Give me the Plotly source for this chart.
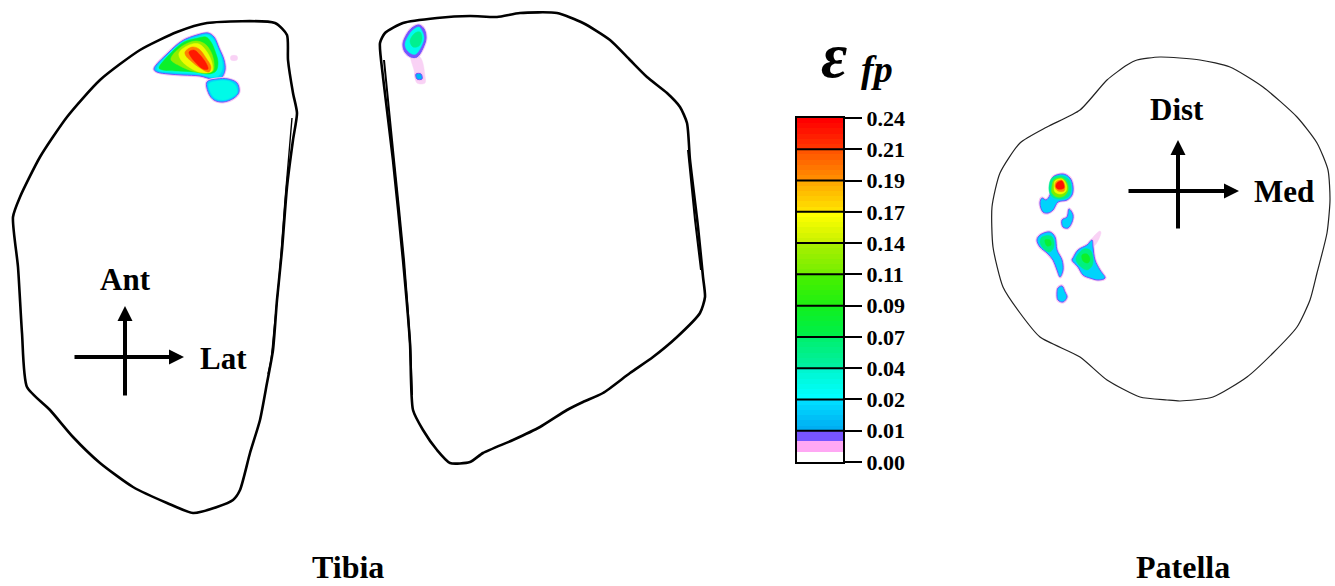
import plotly.graph_objects as go

# ---------------- data (image units) ----------------
# colour-bar tick labels (top -> bottom) and their strain values
cbar_labels = ["0.24", "0.21", "0.19", "0.17", "0.14", "0.11", "0.09",
               "0.07", "0.04", "0.02", "0.01", "0.00"]
cbar_values = [0.24, 0.21, 0.19, 0.17, 0.14, 0.11, 0.09, 0.07, 0.04, 0.02, 0.01, 0.00]

# bone outlines
tibia_L_x = [207, 275, 287, 288, 293, 297, 293, 287, 282, 277, 273, 267, 260, 250, 240, 233,
             217, 193, 167, 133, 100, 73, 50, 27, 22, 18, 13, 20, 40, 67, 100, 140, 177, 207]
tibia_L_y = [23, 23, 35, 60, 93, 113, 140, 187, 250, 300, 350, 383, 420, 453, 490, 500,
             507, 513, 503, 487, 463, 437, 410, 387, 333, 267, 217, 197, 157, 117, 80, 50, 32, 23]
tibia_L_inner_x = [292, 285, 279, 274, 271, 268]
tibia_L_inner_y = [118, 200, 280, 330, 360, 374]

tibia_R_x = [385, 403, 437, 470, 497, 520, 557, 583, 610, 630, 647, 667, 680, 687, 690, 698,
             703, 705, 700, 677, 653, 630, 603, 583, 567, 540, 513, 483, 470, 450, 437, 423,
             413, 410, 403, 393, 383, 380, 385]
tibia_R_y = [33, 23, 18, 16, 17, 13, 13, 23, 40, 60, 77, 93, 107, 123, 160, 227,
             277, 297, 313, 337, 357, 373, 393, 402, 410, 427, 440, 453, 462, 463, 450, 430,
             410, 343, 260, 160, 77, 43, 33]
tibia_R_inner_x = [384, 394, 404, 410, 412]
tibia_R_inner_y = [60, 160, 260, 343, 395]
tibia_R_side_x = [688, 695, 701]
tibia_R_side_y = [150, 220, 270]

patella_x = [1127, 1137, 1160, 1200, 1230, 1263, 1297, 1317, 1328, 1330, 1327, 1317, 1310, 1297,
             1273, 1247, 1213, 1180, 1167, 1140, 1107, 1080, 1040, 1020, 1003, 993, 992, 1000,
             1020, 1047, 1080, 1107, 1127]
patella_y = [65, 60, 57, 60, 67, 87, 117, 143, 170, 200, 233, 273, 300, 327,
             353, 377, 397, 401, 400, 397, 380, 357, 337, 313, 287, 247, 207, 173,
             143, 127, 110, 80, 65]

# strain hot-spots: (strain level, x list, y list), outer -> inner
blob_tibL_main = [
    (0.018, [154, 168, 182, 197, 208, 214, 219, 224, 225, 221, 212, 200, 183, 169, 157],
            [69, 53, 41, 35, 33, 37, 48, 60, 70, 78, 79, 76, 75, 74, 72]),
    (0.030, [157, 169, 183, 198, 207, 213, 218, 222, 222, 218, 211, 199, 183, 170, 160],
            [69, 54, 42, 37, 35, 39, 49, 61, 70, 76, 77, 74, 73, 72, 71]),
    (0.085, [159, 171, 184, 198, 206, 211, 215, 218, 216, 209, 195, 178, 163],
            [68, 53, 42, 38, 37, 42, 51, 62, 71, 74, 72, 71, 70]),
    (0.125, [172, 184, 196, 205, 211, 214, 213, 205, 192, 180, 171],
            [56, 45, 41, 44, 52, 63, 71, 73, 71, 66, 60]),
    (0.160, [179, 189, 199, 207, 212, 212, 204, 192, 181],
            [53, 45, 44, 52, 63, 71, 73, 69, 60]),
    (0.195, [185, 192, 199, 206, 211, 209, 200, 191, 186],
            [52, 47, 49, 58, 67, 72, 68, 61, 56]),
    (0.225, [189, 194, 200, 206, 208, 203, 196, 191],
            [52, 50, 55, 63, 69, 69, 63, 57]),
]
blob_tibL_low = [
    (0.018, [207, 217, 228, 237, 239, 234, 223, 214, 209],
            [82, 79, 79, 83, 92, 98, 102, 100, 94]),
    (0.030, [209, 217, 228, 235, 237, 232, 223, 215, 211],
            [84, 81, 81, 85, 92, 97, 100, 98, 93]),
]
blob_tibL_speck = [
    (0.004, [231, 237, 237, 231], [56, 56, 60, 60]),
]
blob_tibR_trail = [
    (0.004, [411, 420, 425, 425, 417, 414], [56, 57, 76, 83, 83, 70]),
]
blob_tibR_main = [
    (0.008, [412, 419, 424, 426, 423, 417, 411, 405, 403, 407],
            [28, 25, 29, 38, 48, 57, 57, 52, 44, 34]),
    (0.028, [413, 419, 422, 424, 421, 416, 412, 407, 405, 409],
            [30, 27, 31, 38, 47, 54, 54, 50, 44, 35]),
    (0.050, [415, 420, 422, 419, 413, 410], [33, 32, 38, 46, 47, 41]),
]
blob_tibR_dot = [
    (0.012, [416, 421, 422, 417], [74, 74, 79, 79]),
]
blob_pat_A = [
    (0.018, [1053, 1063, 1070, 1073, 1072, 1067, 1058, 1053, 1048, 1043, 1040, 1042, 1046, 1050, 1051],
            [177, 174, 178, 187, 195, 200, 202, 210, 213, 212, 203, 198, 200, 195, 185]),
    (0.050, [1052, 1062, 1069, 1071, 1069, 1062, 1054, 1050, 1049],
            [178, 176, 180, 188, 196, 199, 198, 194, 186]),
    (0.110, [1054, 1062, 1067, 1068, 1064, 1057, 1052, 1052],
            [180, 178, 183, 190, 196, 197, 193, 186]),
    (0.160, [1055, 1062, 1066, 1066, 1061, 1055, 1054], [181, 179, 184, 191, 194, 192, 186]),
    (0.190, [1056, 1062, 1065, 1064, 1058, 1055], [182, 180, 186, 191, 191, 187]),
    (0.230, [1057, 1062, 1064, 1058, 1056], [183, 181, 188, 189, 187]),
]
blob_pat_B = [
    (0.018, [1069, 1067, 1062, 1063, 1068, 1072, 1073], [209, 217, 220, 227, 228, 222, 215]),
]
blob_pat_C = [
    (0.018, [1040, 1050, 1055, 1057, 1062, 1063, 1060, 1057, 1053, 1047, 1040, 1037],
            [235, 232, 237, 250, 260, 270, 277, 270, 260, 253, 247, 240]),
    (0.060, [1042, 1051, 1054, 1053, 1049, 1043, 1040], [237, 236, 242, 249, 252, 248, 242]),
    (0.080, [1045, 1050, 1051, 1047], [240, 240, 245, 246]),
]
blob_pat_D_spike = [
    (0.004, [1091, 1100, 1101, 1094], [241, 231, 233, 246]),
]
blob_pat_D = [
    (0.018, [1073, 1078, 1087, 1092, 1093, 1095, 1100, 1105, 1098, 1090, 1083, 1078, 1072],
            [258, 250, 245, 240, 247, 260, 270, 278, 280, 278, 275, 267, 260]),
    (0.060, [1077, 1084, 1090, 1093, 1092, 1087, 1080, 1076], [256, 249, 250, 258, 266, 270, 266, 260]),
    (0.085, [1082, 1087, 1090, 1088, 1083], [255, 254, 259, 263, 261]),
]
blob_pat_E = [
    (0.018, [1058, 1062, 1065, 1067, 1063, 1058, 1057], [288, 286, 292, 297, 302, 300, 293]),
]

# ---------------- styles ----------------
# colour band gradients, top band -> bottom band (upper colour, lower colour)
band_colors = [
    ("#ff0000", "#ff3300"),
    ("#ff5500", "#ff8c00"),
    ("#ffaa00", "#ffe000"),
    ("#ffff00", "#ccf200"),
    ("#a6ef00", "#78ef00"),
    ("#48f000", "#22f010"),
    ("#10f020", "#00f048"),
    ("#00f070", "#00f0a0"),
    ("#00f6d0", "#00ffff"),
    ("#00dcff", "#00aef2"),
]
bottom_band = ["#7755ff", "#7755ff", "#ffa8f4", "#ffa8f4", "#ffffff", "#ffffff"]
SUB = 6
FONT = "Liberation Serif"


def hex2rgb(h):
    h = h.lstrip("#")
    return [int(h[i:i + 2], 16) for i in (0, 2, 4)]


def mix(c1, c2, f):
    a, b = hex2rgb(c1), hex2rgb(c2)
    return "rgb(%d,%d,%d)" % tuple(round(a[k] + (b[k] - a[k]) * f) for k in range(3))


def level_color(v):
    for i in range(len(cbar_values) - 1):
        hi, lo = cbar_values[i], cbar_values[i + 1]
        if lo <= v <= hi:
            f = (hi - v) / (hi - lo)
            if i < len(band_colors):
                return mix(band_colors[i][0], band_colors[i][1], f)
            return bottom_band[min(int(f * SUB), SUB - 1)]
    return "#ffffff"


fig = go.Figure()

# ---- hot spots ----
for blob in [blob_tibL_main, blob_tibL_low, blob_tibL_speck, blob_tibR_trail, blob_tibR_main,
             blob_tibR_dot, blob_pat_A, blob_pat_B, blob_pat_C, blob_pat_D_spike, blob_pat_D,
             blob_pat_E]:
    for k, (lev, xs, ys) in enumerate(blob):
        xs_c, ys_c = xs + xs[:1], ys + ys[:1]
        outer = (k == 0 and lev > 0.005)
        if outer:
            fig.add_trace(go.Scatter(x=xs_c, y=ys_c, mode="lines",
                                     line=dict(color="#f6c4f2", width=3, shape="spline"),
                                     hoverinfo="skip", showlegend=False))
        fill = level_color(lev) if lev > 0.005 else "#f9d2f5"
        edge = "#6a55ff" if outer else fill
        fig.add_trace(go.Scatter(x=xs_c, y=ys_c, mode="lines", fill="toself",
                                 fillcolor=fill,
                                 line=dict(color=edge, width=1.0 if outer else 0.5, shape="spline"),
                                 hoverinfo="skip", showlegend=False))

# ---- bone outlines ----
for xs, ys, w, c in [(tibia_L_x, tibia_L_y, 2.6, "black"),
                     (tibia_L_inner_x, tibia_L_inner_y, 1.4, "black"),
                     (tibia_R_x, tibia_R_y, 2.6, "black"),
                     (tibia_R_inner_x, tibia_R_inner_y, 2.0, "black"),
                     (tibia_R_side_x, tibia_R_side_y, 2.0, "black"),
                     (patella_x, patella_y, 1.2, "#222222")]:
    fig.add_trace(go.Scatter(x=xs, y=ys, mode="lines",
                             line=dict(color=c, width=w, shape="spline", smoothing=0.6),
                             hoverinfo="skip", showlegend=False))

# ---- colour bar as heatmap on its own axes ----
nb = len(cbar_values) - 1
cb_colors, cb_y, cb_z = [], [], []
for b in range(nb):
    for s in range(SUB):
        if b < len(band_colors):
            col = mix(band_colors[b][0], band_colors[b][1], s / (SUB - 1))
        else:
            col = bottom_band[s]
        cb_colors.append(col)
        cb_y.append(nb - b - (s + 0.5) / SUB)
        cb_z.append([len(cb_colors) - 1 + 0.5])
N = len(cb_colors)
cscale = []
for i, c in enumerate(cb_colors):
    cscale.append([i / N, c])
    cscale.append([(i + 1) / N, c])
fig.add_trace(go.Heatmap(x=[0.5], y=cb_y, z=cb_z, colorscale=cscale, zmin=0, zmax=N,
                         showscale=False, xaxis="x2", yaxis="y2", hoverinfo="skip"))

tick_pos = [nb - i for i in range(len(cbar_labels))]
shapes = [dict(type="line", xref="x2", yref="y2", x0=0, x1=1, y0=t, y1=t,
               line=dict(color="black", width=2), layer="above")
          for t in tick_pos[1:-1]]

W, H = 1335, 586
annotations = []


def txt(x, y, t, size, **kw):
    d = dict(x=x, y=y, xref="x", yref="y", text=t, showarrow=False,
             font=dict(family=FONT, size=size, color="black", weight="bold"))
    d.update(kw)
    annotations.append(d)


def arrow(x0, y0, x1, y1):
    annotations.append(dict(x=x1, y=y1, ax=x0, ay=y0, xref="x", yref="y", axref="x", ayref="y",
                            text="", showarrow=True, arrowhead=2, arrowsize=0.75,
                            arrowwidth=4, arrowcolor="black", standoff=0))


txt(125, 279, "Ant", 31)
txt(223, 358, "Lat", 31)
arrow(73, 357, 184, 357)
arrow(125, 397, 125, 306)
txt(1177, 109, "Dist", 31)
txt(1284, 191, "Med", 31)
arrow(1127, 191, 1239, 191)
arrow(1178, 230, 1178, 140)
txt(348, 567, "Tibia", 32)
txt(1183, 567, "Patella", 32)
annotations.append(dict(x=834, y=55, xref="x", yref="y", text="ε", showarrow=False,
                        font=dict(family=FONT, size=64, color="black", weight="bold", style="italic")))
annotations.append(dict(x=877, y=69, xref="x", yref="y", text="fp", showarrow=False,
                        font=dict(family=FONT, size=38, color="black", weight="bold", style="italic")))

fig.update_layout(
    template="none",
    width=W, height=H, margin=dict(l=0, r=0, t=0, b=0, pad=0, autoexpand=False),
    paper_bgcolor="white", plot_bgcolor="white",
    xaxis=dict(range=[0, W], domain=[0, 1], visible=False, fixedrange=True, automargin=False),
    yaxis=dict(range=[H, 0], domain=[0, 1], visible=False, fixedrange=True, automargin=False),
    xaxis2=dict(domain=[797 / W, 843 / W], range=[0, 1], anchor="y2", automargin=False,
                showline=True, mirror=True, linecolor="black", linewidth=2,
                showticklabels=False, showgrid=False, zeroline=False, ticks=""),
    yaxis2=dict(domain=[1 - 462 / H, 1 - 118 / H], range=[0, nb], anchor="x2", side="right",
                automargin=False,
                tickvals=tick_pos, ticktext=cbar_labels,
                ticks="outside", ticklen=17, tickwidth=2, tickcolor="black",
                showgrid=False,
                showline=True, mirror=True, linecolor="black", linewidth=2, zeroline=False,
                tickfont=dict(family=FONT, size=22, color="black", weight="bold")),
    shapes=shapes,
    annotations=annotations,
)

fig.write_html("out.html")
